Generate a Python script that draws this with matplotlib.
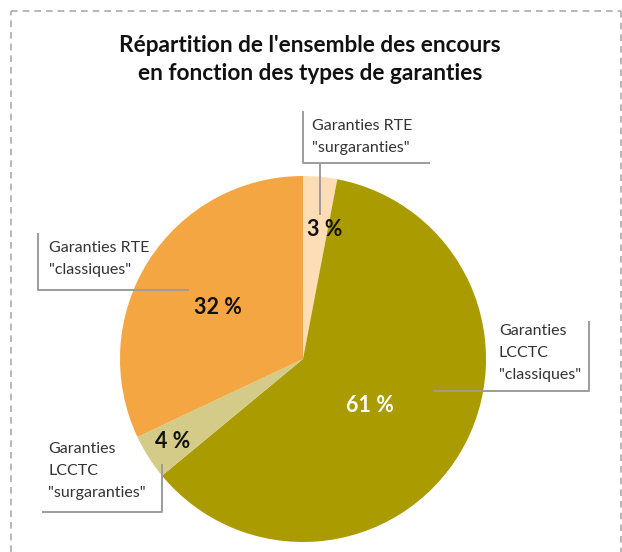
import matplotlib
matplotlib.use("Agg")
import matplotlib.pyplot as plt
from matplotlib.lines import Line2D

# Data
categories = ['Garanties RTE\n"surgaranties"', 'Garanties\nLCCTC\n"classiques"',
              'Garanties\nLCCTC\n"surgaranties"', 'Garanties RTE\n"classiques"']
values = [3, 61, 4, 32]
colors = ['#FDDDB6', '#A99B00', '#D5CB89', '#F4A642']
pct_colors = ['#111111', '#FFFFFF', '#111111', '#111111']
title_lines = ["Répartition de l'ensemble des encours",
               "en fonction des types de garanties"]

plt.rcParams['font.family'] = ['Lato', 'DejaVu Sans']

W, H = 622, 552
fig = plt.figure(figsize=(W / 100, H / 100), dpi=100)
ax = fig.add_axes([0, 0, 1, 1])

cx, cy, r = 303, 359, 183
ax.pie(values, colors=colors, startangle=-90, counterclock=True,
       center=(cx, cy), radius=r, frame=True,
       wedgeprops=dict(linewidth=0))
ax.set_xlim(0, W)
ax.set_ylim(H, 0)
ax.set_aspect('equal')
ax.axis('off')

# percentage labels
pct_pos = [(325, 229), (370, 405), (173, 442), (218, 307)]
for v, (x, y), c in zip(values, pct_pos, pct_colors):
    ax.text(x, y, f"{v} %", ha='center', va='center', fontsize=15.5,
            fontweight='bold', color=c)

# callouts
lc = '#9C9C9C'
lw = 1.4
def seg(xs, ys):
    ax.add_line(Line2D(xs, ys, color=lc, lw=lw, solid_capstyle='butt'))

# RTE surgaranties
seg([303, 303, 430], [111, 163, 163])
seg([320, 320], [163, 215])
# RTE classiques
seg([38, 38, 189], [233, 290, 290])
# LCCTC classiques
seg([589, 589, 434], [321, 391, 391])
# LCCTC surgaranties
seg([162, 162, 42], [464, 512, 512])

text_pos = [(312, 126), (499, 331), (48, 449), (49, 248)]
for lab, (x, y) in zip(categories, text_pos):
    for i, line in enumerate(lab.split('\n')):
        ax.text(x, y + i * 22.2, line, ha='left', va='center', fontsize=11.5,
                color='#333333')

# title
for i, line in enumerate(title_lines):
    ax.text(310, 46 + i * 28, line, ha='center', va='center', fontsize=16.3,
            fontweight='bold', color='#111111')

# dashed border
bc = '#ABABAB'
ax.add_line(Line2D([11, 11], [H, 11], color=bc, lw=1.2, dashes=(4, 3)))
ax.add_line(Line2D([11, 621], [11, 11], color=bc, lw=1.2, dashes=(4, 3)))
ax.add_line(Line2D([621, 621], [11, H], color=bc, lw=1.2, dashes=(4, 3)))

fig.savefig('out.png', dpi=100)
